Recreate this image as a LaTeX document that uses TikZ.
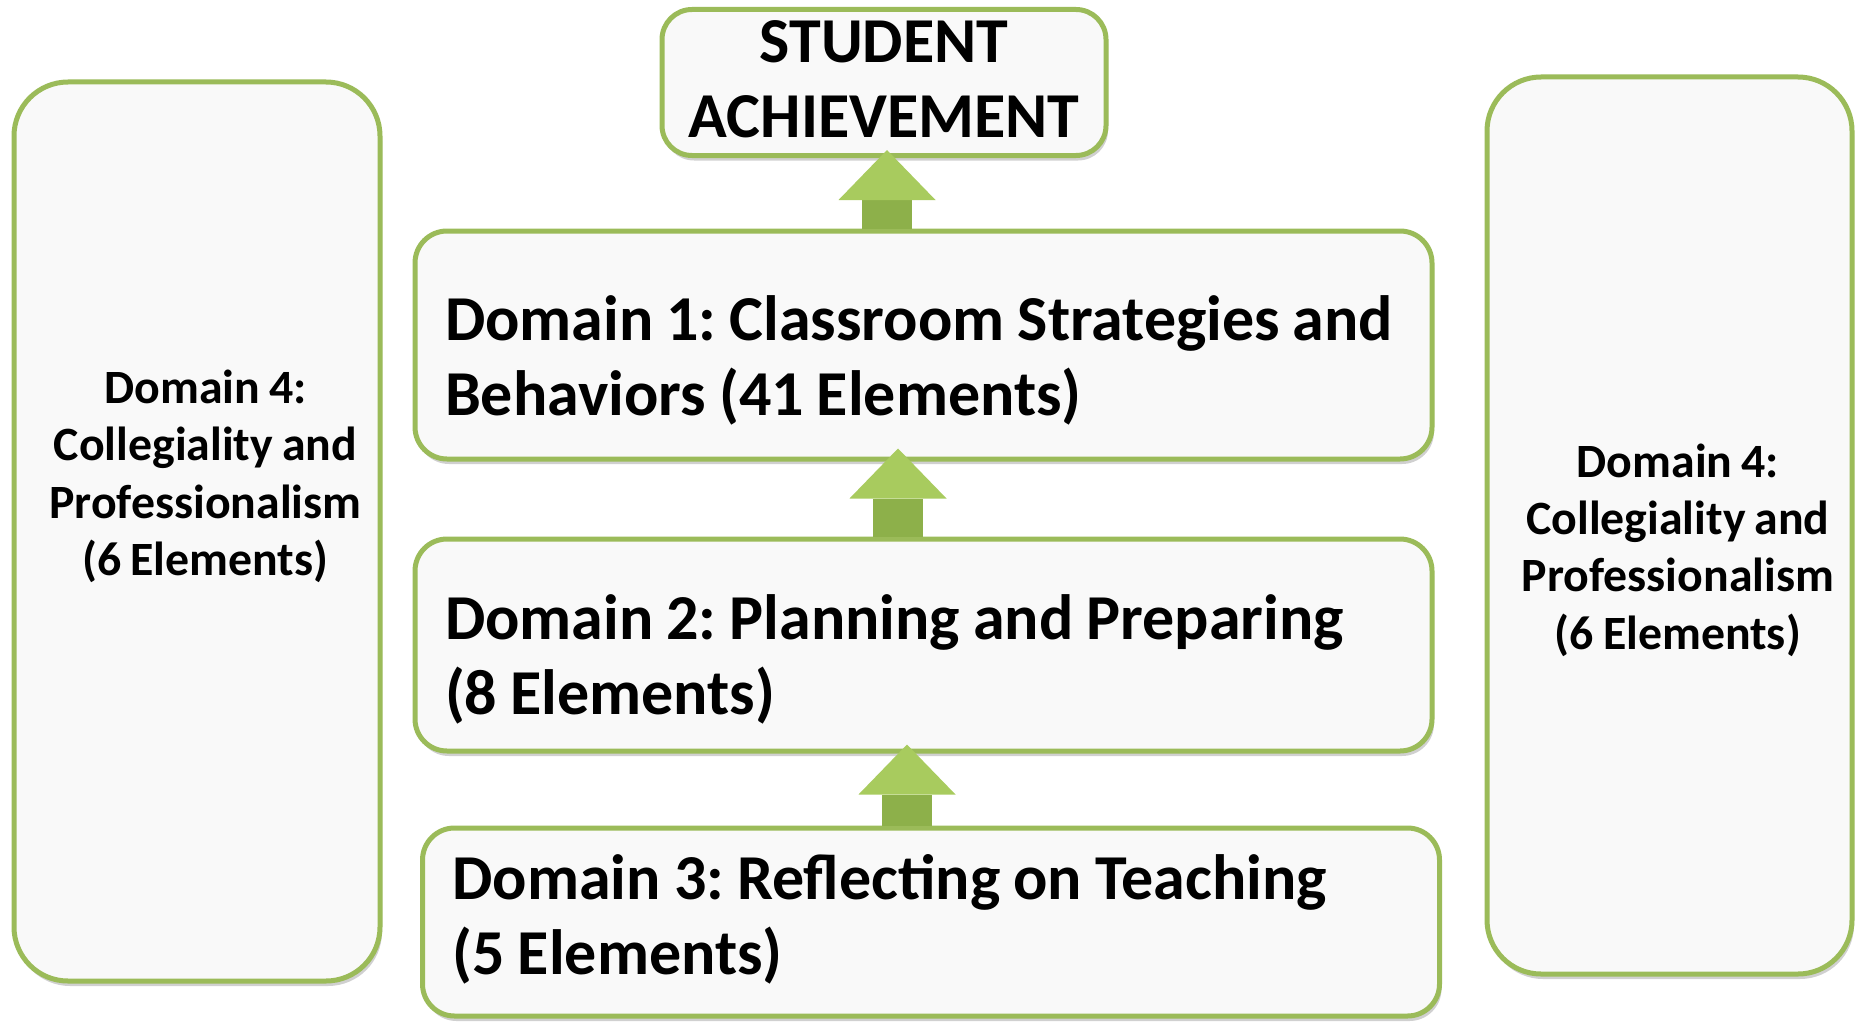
\documentclass[tikz,border=0pt]{standalone}
\usepackage{fontspec}
\setmainfont{Carlito}
\usetikzlibrary{arrows.meta,shadows}
\definecolor{boxgreen}{HTML}{9BBB59}
\definecolor{boxfill}{HTML}{F9F9F9}
\definecolor{shaftgreen}{HTML}{8DB04A}
\definecolor{headgreen}{HTML}{A8CB5E}
\frenchspacing
\begin{document}
\begin{tikzpicture}[x=0.5pt,y=-0.5pt,
    box/.style={rectangle,rounded corners=16pt,draw=boxgreen,line width=2.5pt,fill=boxfill,inner sep=2pt,text height=20pt,
      drop shadow={shadow xshift=1pt,shadow yshift=-2.5pt,opacity=0.3,fill=black!60}},
    domainbox/.style={box,font=\fontsize{32}{37.5}\bfseries\selectfont,execute at begin node={\spaceskip=6.5pt\relax},
      align=left,inner xsep=15pt,text width=478.5pt,minimum width=508.5pt},
    sidebox/.style={box,rounded corners=27pt,font=\fontsize{23.9}{28.7}\bfseries\selectfont,align=flush center,
      execute at begin node={\spaceskip=4.5pt\relax\leftskip=8.4pt plus 1fil},text width=170pt,minimum width=183pt,minimum height=449.5pt},
    uparrow/.style={shaftgreen,line width=25pt,-{Triangle[length=25pt,width=48.5pt,line width=0pt,color=headgreen]}}]
    \useasboundingbox[fill=white] (0,0) rectangle (1862,1022);

    \node (LB) at (197,531.5) [sidebox,text depth=148pt]{Domain 4:\\Collegiality and\\Professionalism\\(6 Elements)};
    \node (RB) at (1669.5,525.5) [sidebox,text depth=68.5pt,minimum width=182.5pt,minimum height=448.5pt]{Domain 4:\\Collegiality and\\Professionalism\\(6 Elements)};

    \node (SA) at (884,82.5) [box,rounded corners=15pt,font=\fontsize{32}{37.5}\bfseries\selectfont,align=center,text width=215pt,text depth=39.5pt,minimum width=222pt,minimum height=73pt]{STUDENT\\ACHIEVEMENT};

    \node (D1) at (923.5,345) [domainbox,text depth=25pt,minimum height=114pt]{Domain 1: Classroom Strategies and\\Behaviors (41 Elements)};
    \node (D2) at (923.5,645) [domainbox,text depth=25.2pt,minimum height=106pt]{Domain 2: Planning and Preparing\\(8 Elements)};
    \node (D3) at (931,922) [domainbox,text depth=43pt,minimum height=94pt]{Domain 3: Reflecting on Teaching\\(5 Elements)};

    \draw [uparrow] ([xshift=-18.25pt]D1.north) -- ([xshift=1.5pt,yshift=4pt]SA.south);
    \draw [uparrow] ([xshift=-12.75pt]D2.north) -- ([xshift=-12.75pt,yshift=6.5pt]D1.south);
    \draw [uparrow] ([xshift=-12pt]D3.north) -- ([xshift=-8.25pt,yshift=4.5pt]D2.south);
\end{tikzpicture}
\end{document}
